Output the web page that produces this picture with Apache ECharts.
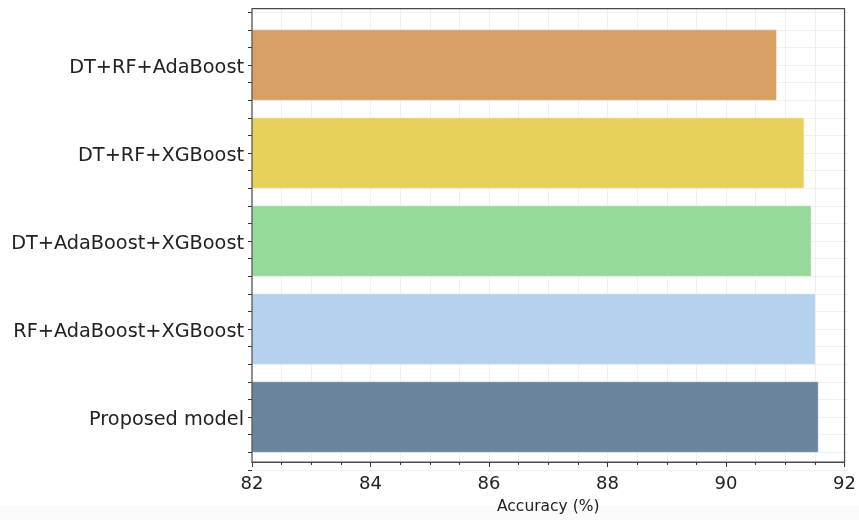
<!DOCTYPE html>
<html>
<head>
<meta charset="utf-8">
<script src="https://cdn.jsdelivr.net/npm/echarts@6/dist/echarts.min.js"></script>
<style>
html,body{margin:0;padding:0;background:#fff;}
#chart{width:859px;height:520px;}
</style>
</head>
<body>
<div id="chart"></div>
<script>
// Categories, bottom to top
const categories = ['Proposed model', 'RF+AdaBoost+XGBoost', 'DT+AdaBoost+XGBoost', 'DT+RF+XGBoost', 'DT+RF+AdaBoost'];
const accuracy = [91.5, 91.45, 91.38, 91.26, 90.8];
const barColors = ['#6a849c', '#b4d2ee', '#96da9a', '#e8d15b', '#d9a066'];
const xTicks = [82, 84, 86, 88, 90, 92];

const chart = echarts.init(document.getElementById('chart'), null, {renderer: 'canvas'});
const font = 'DejaVu Sans';
const gridColor = '#efefef';

const data = accuracy.map((v, i) => ({value: [v, i], itemStyle: {color: barColors[i]}}));

chart.setOption({
  animation: false,
  backgroundColor: '#ffffff',
  graphic: [{
    type: 'rect', z: -10, silent: true,
    shape: {x: 0, y: 506, width: 859, height: 14},
    style: {fill: '#fafafa'}
  }],
  grid: [
    {left: 252, right: 11, top: 8.7, bottom: 520 - 473.3, show: true, borderColor: '#4a4a4a', borderWidth: 1.2, backgroundColor: 'transparent', z: 3},
    {left: 252, right: 11, top: 12.2, bottom: 520 - 469.8, show: false}
  ],
  xAxis: [
    {
      gridIndex: 0, type: 'value', min: xTicks[0], max: xTicks[xTicks.length - 1], interval: 2,
      axisLine: {show: true, onZero: false, lineStyle: {color: '#4a4a4a', width: 1.2}},
      axisTick: {show: true, length: 5, lineStyle: {color: '#333'}},
      minorTick: {show: true, splitNumber: 4, length: 3, lineStyle: {color: '#333'}},
      splitLine: {show: true, lineStyle: {color: gridColor, width: 1}},
      minorSplitLine: {show: true, lineStyle: {color: gridColor, width: 1}},
      axisLabel: {show: true, fontFamily: font, fontSize: 18, color: '#222', margin: 13},
      name: 'Accuracy (%)', nameLocation: 'middle', nameGap: 37,
      nameTextStyle: {fontFamily: font, fontSize: 15.5, color: '#222'}
    },
    {
      gridIndex: 1, type: 'value', min: xTicks[0], max: xTicks[xTicks.length - 1],
      show: false
    }
  ],
  yAxis: [
    {
      gridIndex: 0, type: 'value', min: -0.64, max: 4.64, show: false,
      splitLine: {show: false}
    },
    {
      gridIndex: 1, type: 'value', min: -0.6, max: 4.6, interval: 0.2,
      axisLine: {show: false},
      axisTick: {show: true, length: 4, lineStyle: {color: '#333'}},
      splitLine: {show: true, lineStyle: {color: gridColor, width: 1}},
      axisLabel: {
        show: true, interval: 0, fontFamily: font, fontSize: 19.3, color: '#222', margin: 8,
        verticalAlign: 'top', lineHeight: 5,
        formatter: function (v) {
          const r = Math.round(v);
          if (Math.abs(v - r) < 1e-6 && r >= 0 && r < categories.length) return categories[r];
          return '';
        }
      }
    }
  ],
  series: [{
    type: 'custom',
    xAxisIndex: 1, yAxisIndex: 1,
    z: 2,
    renderItem: function (params, api) {
      const v = api.value(0);
      const idx = api.value(1);
      const p0 = api.coord([xTicks[0], idx]);
      const p1 = api.coord([v, idx]);
      const h = api.size([0, 0.8])[1];
      return {
        type: 'rect',
        shape: {x: p0[0], y: p0[1] - h / 2, width: p1[0] - p0[0], height: h},
        style: {fill: api.visual('color'), stroke: 'rgba(255,255,255,0.35)', lineWidth: 1}
      };
    },
    encode: {x: 0, y: 1},
    data: data
  }]
});
</script>
</body>
</html>
